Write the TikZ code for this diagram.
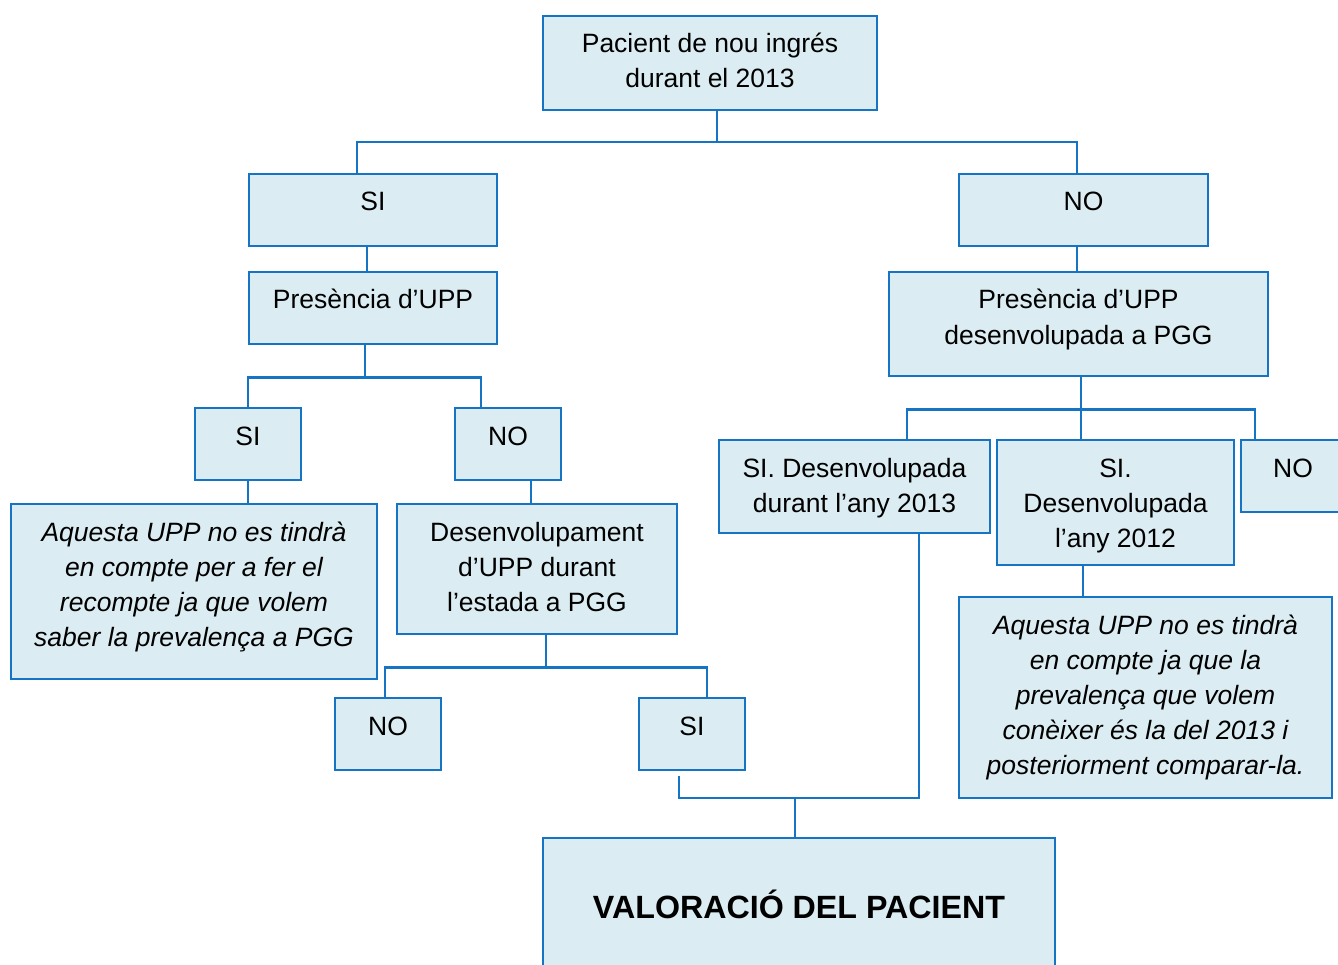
\documentclass[tikz,border=0pt]{standalone}
\usepackage{fontspec}
\setmainfont{Liberation Sans}
\definecolor{bblue}{RGB}{22,116,196}
\definecolor{lblue}{RGB}{219,237,243}
\newcommand{\bx}[3]{\parbox[c][#2pt][t]{#1pt}{\centering\rule{0pt}{37pt}#3}}
\begin{document}
\begin{tikzpicture}[x=1pt,y=-1pt,
  box/.style={draw=bblue,fill=lblue,line width=2.5pt,inner sep=0pt,
    font=\fontsize{26.5}{35}\selectfont},
  conn/.style={draw=bblue,line width=2.5pt}]
\useasboundingbox (0,0) rectangle (1338,965);
\clip (0,0) rectangle (1338,965);
\node[box] (top) at (710,63) {\bx{334}{94}{Pacient de nou ingrés\\durant el 2013}};
\node[box] (siL) at (373,210) {\bx{248}{72}{SI}};
\node[box] (noR) at (1083.5,210) {\bx{249}{72}{NO}};
\node[box] (presL) at (373,308) {\bx{248}{72}{Presència d’UPP}};
\node[box] (presR) at (1078.5,324) {\bx{379}{104}{Presència d’UPP\\desenvolupada a PGG}};
\node[box] (si2) at (248,444) {\bx{106}{72}{SI}};
\node[box] (no2) at (508,444) {\bx{106}{72}{NO}};
\node[box] (aqL) at (194,591.5) {\bx{366}{175}{\itshape Aquesta UPP no es tindrà\\en compte per a fer el\\recompte ja que volem\\saber la prevalença a PGG}};
\node[box] (desL) at (537,569) {\bx{280}{130}{Desenvolupament\\d’UPP durant\\l’estada a PGG}};
\node[box] (no3) at (388,734) {\bx{106}{72}{NO}};
\node[box] (si3) at (692,734) {\bx{106}{72}{SI}};
\node[box] (si13) at (854.5,486.5) {\bx{271}{93}{SI. Desenvolupada\\durant l’any 2013}};
\node[box] (si12) at (1115.5,502.5) {\bx{237}{125}{SI.\\Desenvolupada\\l’any 2012}};
\node[box] (noF) at (1293,476) {\bx{104}{72}{NO}};
\node[box] (aqR) at (1145.5,697.5) {\bx{373}{201}{\itshape Aquesta UPP no es tindrà\\en compte ja que la\\prevalença que volem\\conèixer és la del 2013 i\\posteriorment comparar-la.}};
\node[box,minimum width=512,minimum height=132,font=\fontsize{32.2}{38}\selectfont\bfseries] (val) at (799,904) {VALORACIÓ DEL PACIENT};
% connectors
\coordinate (b1) at (717,142);
\draw[conn] (b1 |- top.south) -- (b1);
\draw[conn] ([xshift=-16pt]siL.north) |- ([xshift=-6.5pt]noR.north |- b1) -- ([xshift=-6.5pt]noR.north);
\draw[conn] ([xshift=-6pt]siL.south) -- ([xshift=-6pt]presL.north);
\draw[conn] ([xshift=-6.5pt]noR.south) -- ([xshift=-6.5pt]noR.south |- presR.north);
\draw[conn] ([xshift=-8pt]presL.south) -- ++(0,32) coordinate (b2);
\draw[conn] (si2.north) |- (b2) -| ([xshift=-27pt]no2.north);
\draw[conn] (si2.south) -- (si2.south |- aqL.north);
\draw[conn] ([xshift=23pt]no2.south) -- ([xshift=23pt]no2.south |- desL.north);
\draw[conn] ([xshift=9pt]desL.south) -- ++(0,32) coordinate (b3);
\draw[conn] ([xshift=-3pt]no3.north) |- (b3) -| ([xshift=15pt]si3.north);
\coordinate (b4) at (795,798);
\draw[conn] ([xshift=-13pt,yshift=-5pt]si3.south) |- ([xshift=64.5pt]si13.south |- b4) -- ([xshift=64.5pt]si13.south);
\draw[conn] (b4) -- (b4 |- val.north);
\draw[conn] ([xshift=2.5pt]presR.south) -- ++(0,32) coordinate (b5) -- (b5 |- si12.north);
\draw[conn] ([xshift=52.5pt]si13.north) |- (b5) -| ([xshift=-38pt]noF.north);
\draw[conn] ([xshift=-32.5pt]si12.south) -- ([xshift=-32.5pt]si12.south |- aqR.north);
\end{tikzpicture}
\end{document}
